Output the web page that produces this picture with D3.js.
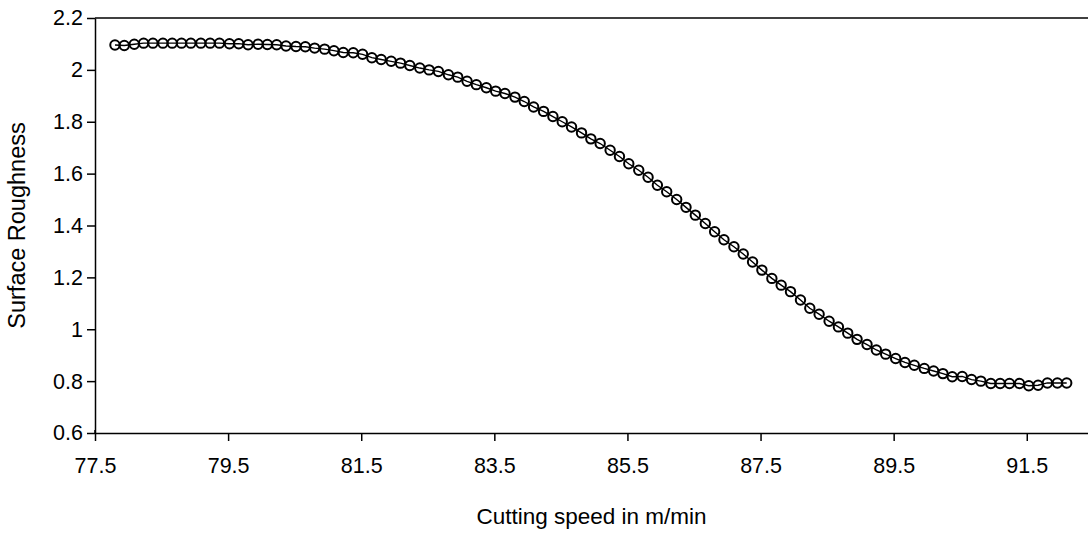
<!DOCTYPE html>
<html>
<head>
<meta charset="utf-8">
<script src="https://cdn.jsdelivr.net/npm/d3@7"></script>
<style>
  body { margin: 0; background: #fff; }
  svg { display: block; font-family: "Liberation Sans", Arial, sans-serif; }
</style>
</head>
<body>
<div id="chart"></div>
<script>
// cutting speed (m/min)
const speed = [
  77.80, 77.94, 78.09, 78.23, 78.37, 78.52, 78.66, 78.80, 78.94, 79.09,
  79.23, 79.37, 79.52, 79.66, 79.80, 79.95, 80.09, 80.23, 80.37, 80.52,
  80.66, 80.80, 80.95, 81.09, 81.23, 81.38, 81.52, 81.66, 81.80, 81.95,
  82.09, 82.23, 82.38, 82.52, 82.66, 82.81, 82.95, 83.09, 83.23, 83.38,
  83.52, 83.66, 83.81, 83.95, 84.09, 84.24, 84.38, 84.52, 84.66, 84.81,
  84.95, 85.09, 85.24, 85.38, 85.52, 85.67, 85.81, 85.95, 86.09, 86.24,
  86.38, 86.52, 86.67, 86.81, 86.95, 87.10, 87.24, 87.38, 87.52, 87.67,
  87.81, 87.95, 88.10, 88.24, 88.38, 88.53, 88.67, 88.81, 88.95, 89.10,
  89.24, 89.38, 89.53, 89.67, 89.81, 89.96, 90.10, 90.24, 90.38, 90.53,
  90.67, 90.81, 90.96, 91.10, 91.24, 91.39, 91.53, 91.67, 91.81, 91.96,
  92.10
];

// surface roughness
const roughness = [
  2.096, 2.094, 2.099, 2.103, 2.103, 2.103, 2.103, 2.103, 2.103, 2.103,
  2.103, 2.103, 2.101, 2.101, 2.097, 2.099, 2.098, 2.097, 2.092, 2.090,
  2.089, 2.084, 2.080, 2.074, 2.067, 2.066, 2.060, 2.047, 2.040, 2.033,
  2.026, 2.017, 2.007, 2.000, 1.994, 1.981, 1.972, 1.956, 1.943, 1.931,
  1.918, 1.909, 1.895, 1.878, 1.857, 1.840, 1.820, 1.800, 1.780, 1.757,
  1.734, 1.716, 1.690, 1.666, 1.638, 1.613, 1.586, 1.555, 1.530, 1.500,
  1.470, 1.440, 1.408, 1.376, 1.345, 1.318, 1.290, 1.259, 1.228, 1.196,
  1.170, 1.145, 1.113, 1.081, 1.058, 1.031, 1.009, 0.985, 0.961, 0.941,
  0.920, 0.904, 0.887, 0.872, 0.861, 0.849, 0.839, 0.829, 0.817, 0.818,
  0.806, 0.800, 0.791, 0.791, 0.791, 0.791, 0.782, 0.784, 0.793, 0.793,
  0.793
];

const xTicks = [77.5, 79.5, 81.5, 83.5, 85.5, 87.5, 89.5, 91.5];
const yTicks = [0.6, 0.8, 1, 1.2, 1.4, 1.6, 1.8, 2, 2.2];

const width = 1088, height = 540;
const margin = {top: 18, right: 0, bottom: 107, left: 95};

const svg = d3.select("#chart").append("svg")
    .attr("width", width)
    .attr("height", height);

const x = d3.scaleLinear()
    .domain([77.5, 92.42])
    .range([margin.left, width - margin.right]);

const y = d3.scaleLinear()
    .domain([0.6, 2.2])
    .range([height - margin.bottom, margin.top]);

// top border of plot area
svg.append("line")
    .attr("x1", margin.left).attr("x2", width)
    .attr("y1", y(2.2)).attr("y2", y(2.2))
    .attr("stroke", "#000").attr("stroke-width", 1.5);

const xAxis = svg.append("g")
    .attr("transform", `translate(0,${y(0.6)})`)
    .call(d3.axisBottom(x).tickValues(xTicks).tickFormat(d3.format(".1f")).tickSize(8).tickSizeOuter(0));

const yAxis = svg.append("g")
    .attr("transform", `translate(${x(77.5)},0)`)
    .call(d3.axisLeft(y).tickValues(yTicks).tickFormat(d => d3.format("")(+d.toFixed(1))).tickSize(8).tickSizeOuter(0));

[xAxis, yAxis].forEach(g => {
    g.select(".domain").attr("stroke", "#000").attr("stroke-width", 1.5);
    g.selectAll(".tick line").attr("stroke", "#000").attr("stroke-width", 1.5);
    g.selectAll(".tick text").attr("fill", "#000").attr("font-size", 21.5);
});
xAxis.selectAll(".tick text").attr("dy", "1.35em");
yAxis.selectAll(".tick text").attr("x", -12);

// the small cross tick at the origin
svg.append("line")
    .attr("x1", x(77.5)).attr("x2", x(77.5))
    .attr("y1", y(0.6) - 3).attr("y2", y(0.6))
    .attr("stroke", "#000").attr("stroke-width", 1.5);

const pts = speed.map((s, i) => ({s: s, r: roughness[i]}));

svg.append("path")
    .datum(pts)
    .attr("fill", "none")
    .attr("stroke", "#000")
    .attr("stroke-width", 1.4)
    .attr("d", d3.line().x(d => x(d.s)).y(d => y(d.r)));

svg.append("g").selectAll("circle")
    .data(pts)
    .enter().append("circle")
    .attr("cx", d => x(d.s))
    .attr("cy", d => y(d.r))
    .attr("r", 4.7)
    .attr("fill", "none")
    .attr("stroke", "#000")
    .attr("stroke-width", 2);

// axis titles
svg.append("text")
    .attr("x", (x(77.5) + width) / 2)
    .attr("y", 524)
    .attr("text-anchor", "middle")
    .attr("font-size", 22.5)
    .text("Cutting speed in m/min");

svg.append("text")
    .attr("transform", `translate(25,${y(1.4)}) rotate(-90)`)
    .attr("text-anchor", "middle")
    .attr("font-size", 23.5)
    .text("Surface Roughness");
</script>
</body>
</html>
